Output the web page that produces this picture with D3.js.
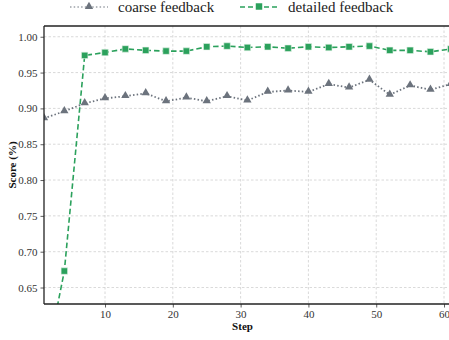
<!DOCTYPE html>
<html>
<head>
<meta charset="utf-8">
<script src="https://cdn.jsdelivr.net/npm/d3@7"></script>
<style>
  html, body { margin: 0; padding: 0; background: #fff; }
  svg { display: block; }
  svg text { font-family: "Liberation Serif", "Times New Roman", Times, "DejaVu Serif", serif; }
</style>
</head>
<body>
<svg id="chart" width="449" height="340"></svg>
<script>
// Training steps (evaluated every 3 steps)
const steps = [1, 4, 7, 10, 13, 16, 19, 22, 25, 28, 31, 34, 37, 40, 43, 46, 49, 52, 55, 58, 61];

// Score per step for each feedback type
const coarseScores = [0.886, 0.896, 0.907, 0.914, 0.917, 0.921, 0.910, 0.915, 0.910, 0.917, 0.911,
                      0.923, 0.925, 0.923, 0.934, 0.929, 0.940, 0.919, 0.932, 0.926, 0.934];
const detailedScores = [0.530, 0.673, 0.974, 0.978, 0.983, 0.981, 0.980, 0.980, 0.986, 0.987, 0.985,
                        0.986, 0.984, 0.986, 0.985, 0.986, 0.987, 0.981, 0.981, 0.979, 0.983];

const xTicks = [10, 20, 30, 40, 50, 60];
const yTicks = [0.65, 0.70, 0.75, 0.80, 0.85, 0.90, 0.95, 1.00];

const seriesNames = ["coarse feedback", "detailed feedback"];

const svg = d3.select("#chart");
const margin = { left: 44, top: 26, right: 0, bottom: 36 };
const W = 449, H = 340;
const plotRight = 450.8;
const plotBottom = H - margin.bottom;

const x = d3.scaleLinear().domain([1, 61]).range([margin.left, plotRight]);
const y = d3.scaleLinear().domain([0.627, 1.015]).range([plotBottom, margin.top]);

// clip for plot area
svg.append("defs").append("clipPath").attr("id", "plotClip")
  .append("rect")
  .attr("x", margin.left).attr("y", margin.top)
  .attr("width", plotRight - margin.left).attr("height", plotBottom - margin.top);

// gridlines
const grid = svg.append("g").attr("class", "grid");
grid.selectAll("line.gx").data(xTicks).join("line")
  .attr("x1", d => x(d)).attr("x2", d => x(d))
  .attr("y1", margin.top).attr("y2", plotBottom)
  .attr("stroke", "#cfcfcf").attr("stroke-width", 0.8).attr("stroke-dasharray", "2.5,2");
grid.selectAll("line.gy").data(yTicks).join("line")
  .attr("x1", margin.left).attr("x2", plotRight)
  .attr("y1", d => y(d)).attr("y2", d => y(d))
  .attr("stroke", "#cfcfcf").attr("stroke-width", 0.8).attr("stroke-dasharray", "2.5,2");

// axes
const xAxis = d3.axisBottom(x).tickValues(xTicks).tickFormat(d3.format("d"))
  .tickSizeInner(3.5).tickSizeOuter(0).tickPadding(3);
const yAxis = d3.axisLeft(y).tickValues(yTicks).tickFormat(d3.format(".2f"))
  .tickSizeInner(3.5).tickSizeOuter(0).tickPadding(3);

const gx = svg.append("g").attr("transform", `translate(0,${plotBottom})`).call(xAxis);
const gy = svg.append("g").attr("transform", `translate(${margin.left},0)`).call(yAxis);
[gx, gy].forEach(g => {
  g.attr("font-family", null);
  g.select(".domain").remove();
  g.selectAll(".tick line").attr("stroke", "#333").attr("stroke-width", 0.8);
  g.selectAll(".tick text").attr("fill", "#333").style("font-size", "11px");
});

// lines and markers
const plot = svg.append("g").attr("clip-path", "url(#plotClip)");

const coarseData = steps.map((s, i) => ({ s, v: coarseScores[i] }));
const detailedData = steps.map((s, i) => ({ s, v: detailedScores[i] }));
const line = d3.line().x(d => x(d.s)).y(d => y(d.v));

const gray = "#6c737d";
const green = "#2ba15c";

plot.append("path").datum(coarseData).attr("d", line)
  .attr("fill", "none").attr("stroke", gray).attr("stroke-width", 1.8)
  .attr("stroke-dasharray", "1.5,2.2");
plot.append("path").datum(detailedData).attr("d", line)
  .attr("fill", "none").attr("stroke", green).attr("stroke-width", 1.6)
  .attr("stroke-dasharray", "5.5,3");

const tri = d3.symbol().type(d3.symbolTriangle).size(30);
const sq = d3.symbol().type(d3.symbolSquare).size(42);

plot.selectAll("path.tri").data(coarseData).join("path").attr("class", "tri")
  .attr("d", tri).attr("transform", d => `translate(${x(d.s)},${y(d.v) - 0.5})`)
  .attr("fill", gray);
plot.selectAll("path.sq").data(detailedData).join("path").attr("class", "sq")
  .attr("d", sq).attr("transform", d => `translate(${x(d.s)},${y(d.v)})`)
  .attr("fill", green).attr("stroke", "#e6f4ea").attr("stroke-width", 0.6);

// spines
const spine = svg.append("g");
spine.append("line").attr("x1", margin.left).attr("x2", margin.left)
  .attr("y1", margin.top).attr("y2", plotBottom).attr("stroke", "#222").attr("stroke-width", 1.3);
spine.append("line").attr("x1", margin.left).attr("x2", plotRight)
  .attr("y1", plotBottom).attr("y2", plotBottom).attr("stroke", "#222").attr("stroke-width", 1.3);
spine.append("line").attr("x1", margin.left).attr("x2", plotRight)
  .attr("y1", margin.top).attr("y2", margin.top).attr("stroke", "#222").attr("stroke-width", 1.3);

// axis titles
svg.append("text").attr("x", (margin.left + W) / 2 - 4).attr("y", plotBottom + 26)
  .attr("text-anchor", "middle").style("font-size", "11px")
  .style("font-weight", "bold").attr("fill", "#111").text("Step");
svg.append("text").attr("transform", `translate(16,${(margin.top + plotBottom) / 2}) rotate(-90)`)
  .attr("text-anchor", "middle").style("font-size", "11px")
  .style("font-weight", "bold").attr("fill", "#111").text("Score (%)");

// legend
const legend = svg.append("g");
const legendItems = [
  { name: seriesNames[0], color: gray, dash: "1.5,2.2", width: 1.2, sym: tri, x0: 70 },
  { name: seriesNames[1], color: green, dash: "5,3", width: 1.6, sym: sq, x0: 240 }
];
legendItems.forEach(it => {
  const g = legend.append("g").attr("transform", `translate(${it.x0},7)`);
  g.append("line").attr("x1", 0).attr("x2", 38).attr("y1", 0).attr("y2", 0)
    .attr("stroke", it.color).attr("stroke-width", it.width).attr("stroke-dasharray", it.dash);
  g.append("path").attr("d", it.sym).attr("transform", "translate(19,-0.5)").attr("fill", it.color);
  g.append("text").attr("x", 48).attr("y", 5).style("font-size", "15px")
    .attr("fill", "#222").text(it.name);
});
</script>
</body>
</html>
